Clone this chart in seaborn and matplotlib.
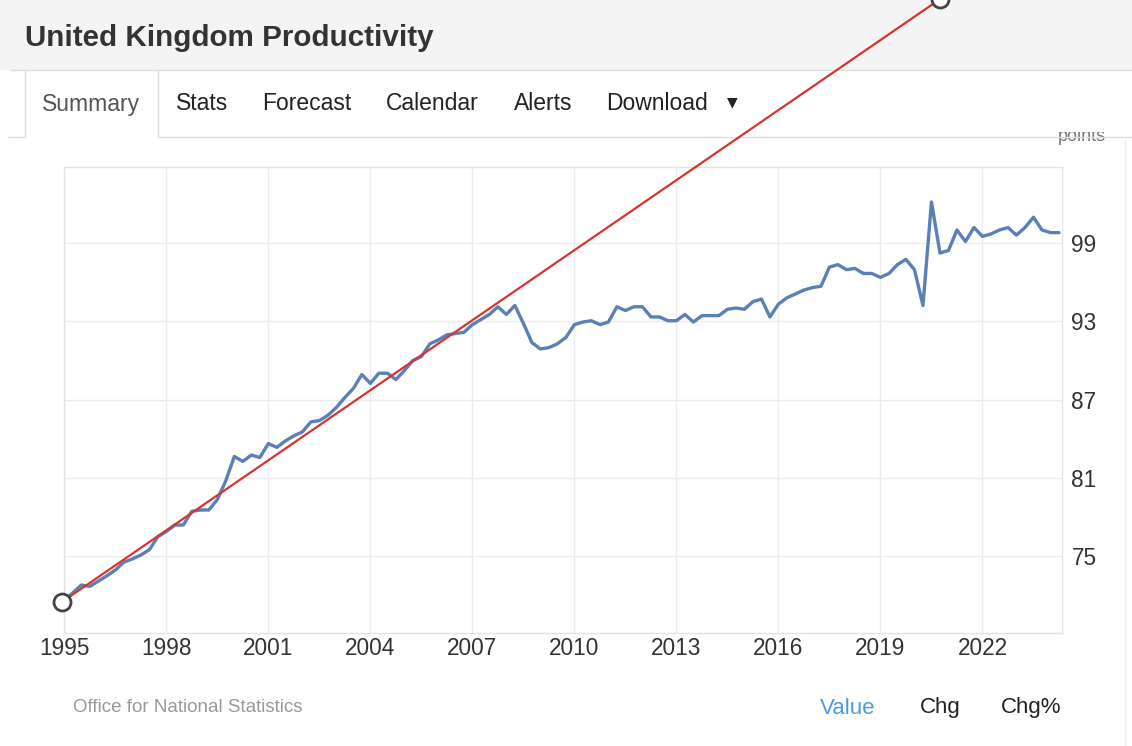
import matplotlib
matplotlib.use("Agg")
import matplotlib.pyplot as plt
import seaborn as sns
import pandas as pd
from matplotlib.lines import Line2D
from matplotlib.patches import Rectangle

# quarterly productivity index
years = [
    1995.00, 1995.25, 1995.50, 1995.75, 1996.00, 1996.25, 1996.50, 1996.75,
    1997.00, 1997.25, 1997.50, 1997.75, 1998.00, 1998.25, 1998.50, 1998.75,
    1999.00, 1999.25, 1999.50, 1999.75, 2000.00, 2000.25, 2000.50, 2000.75,
    2001.00, 2001.25, 2001.50, 2001.75, 2002.00, 2002.25, 2002.50, 2002.75,
    2003.00, 2003.25, 2003.50, 2003.75, 2004.00, 2004.25, 2004.50, 2004.75,
    2005.00, 2005.25, 2005.50, 2005.75, 2006.00, 2006.25, 2006.50, 2006.75,
    2007.00, 2007.25, 2007.50, 2007.75, 2008.00, 2008.25, 2008.50, 2008.75,
    2009.00, 2009.25, 2009.50, 2009.75, 2010.00, 2010.25, 2010.50, 2010.75,
    2011.00, 2011.25, 2011.50, 2011.75, 2012.00, 2012.25, 2012.50, 2012.75,
    2013.00, 2013.25, 2013.50, 2013.75, 2014.00, 2014.25, 2014.50, 2014.75,
    2015.00, 2015.25, 2015.50, 2015.75, 2016.00, 2016.25, 2016.50, 2016.75,
    2017.00, 2017.25, 2017.50, 2017.75, 2018.00, 2018.25, 2018.50, 2018.75,
    2019.00, 2019.25, 2019.50, 2019.75, 2020.00, 2020.25, 2020.50, 2020.75,
    2021.00, 2021.25, 2021.50, 2021.75, 2022.00, 2022.25, 2022.50, 2022.75,
    2023.00, 2023.25, 2023.50, 2023.75, 2024.00, 2024.25,
]
values = [
    71.6, 72.2, 72.8, 72.7, 73.1, 73.5, 73.95, 74.55,
    74.8, 75.1, 75.5, 76.5, 76.9, 77.4, 77.4, 78.45,
    78.55, 78.55, 79.35, 80.8, 82.65, 82.27, 82.76, 82.57,
    83.64, 83.35, 83.84, 84.23, 84.53, 85.3, 85.4, 85.8,
    86.4, 87.17, 87.86, 88.93, 88.25, 89.03, 89.03, 88.54,
    89.23, 90.0, 90.3, 91.28, 91.58, 91.97, 92.07, 92.16,
    92.75, 93.14, 93.53, 94.12, 93.53, 94.22, 92.85, 91.38,
    90.89, 90.99, 91.28, 91.77, 92.75, 92.95, 93.05, 92.75,
    92.95, 94.12, 93.83, 94.12, 94.12, 93.34, 93.34, 93.05,
    93.05, 93.53, 92.95, 93.44, 93.44, 93.44, 93.93, 94.02,
    93.93, 94.51, 94.71, 93.34, 94.32, 94.81, 95.1, 95.4,
    95.59, 95.69, 97.16, 97.35, 96.96, 97.06, 96.67, 96.67,
    96.37, 96.67, 97.35, 97.75, 96.96, 94.22, 102.15, 98.24,
    98.43, 100.0, 99.12, 100.19, 99.51, 99.7, 100.0, 100.19,
    99.61, 100.19, 100.98, 100.0, 99.8, 99.8,
]

# hand-drawn red trend line (start and end points)
trend_years = [1994.93, 2020.76]
trend_values = [71.5, 117.7]

x_ticks = [1995, 1998, 2001, 2004, 2007, 2010, 2013, 2016, 2019, 2022]
y_ticks = [75, 81, 87, 93, 99]

title = "United Kingdom Productivity"
tabs = ["Summary", "Stats", "Forecast", "Calendar", "Alerts", "Download"]
source = "Office for National Statistics"

sns.set_style("white")
plt.rcParams["font.family"] = ["Liberation Sans", "DejaVu Sans"]

W, H = 1132, 746
fig = plt.figure(figsize=(W / 100, H / 100), dpi=100)


def fx(px):
    return px / W


def fy(py):
    return 1 - py / H


def hline(y, x0, x1, color="#dddddd", lw=1.0, z=2):
    fig.add_artist(Line2D([fx(x0), fx(x1)], [fy(y), fy(y)], color=color, lw=lw, zorder=z))


def vline(x, y0, y1, color="#dddddd", lw=1.0, z=2):
    fig.add_artist(Line2D([fx(x), fx(x)], [fy(y0), fy(y1)], color=color, lw=lw, zorder=z))


# "points" label, mostly hidden under the tab row
fig.text(fx(1106), fy(141), "points", fontsize=13, color="#777777", ha="right",
         va="baseline", zorder=1)
fig.patches.append(Rectangle((fx(700), fy(132)), fx(432), 62 / H, transform=fig.transFigure,
                             facecolor="white", edgecolor="none", zorder=1.5))

# page header
fig.patches.append(Rectangle((0, fy(70)), 1, 70 / H, transform=fig.transFigure,
                             facecolor="#f4f4f4", edgecolor="none", zorder=1.6))
fig.text(fx(25), fy(38), title, fontsize=21.3, fontweight="bold", color="#333333",
         va="center", ha="left", zorder=3)
hline(70, 10, W)

# tab row
vline(25, 70, 137)
vline(158, 70, 137)
hline(137, 158, W)
hline(137, 8, 25)
fig.text(fx(91), fy(104), tabs[0], fontsize=16.5, color="#555555", ha="center",
         va="center", zorder=3)
tab_x = [176, 262, 386, 514, 606]
for name, px in zip(tabs[1:], tab_x):
    fig.text(fx(px), fy(104), name, fontsize=16.5, color="#222222", ha="left",
             va="center", zorder=3)
fig.text(fx(732), fy(102), "\u25bc", fontsize=10, color="#222222", ha="center",
         va="center", family="DejaVu Sans", zorder=3)
vline(1125, 137, H, color="#eeeeee")

# chart
ax = fig.add_axes([fx(64.3), fy(632.7), fx(1061.7 - 64.3), (632.7 - 166.7) / H])
ax.set_zorder(5)
df = pd.DataFrame({"year": years, "value": values})
sns.lineplot(data=df, x="year", y="value", ax=ax, color="#5a80b6", lw=2.4)

trend = pd.DataFrame({"year": trend_years, "value": trend_values})
sns.lineplot(data=trend, x="year", y="value", ax=ax, color="#d8342f", lw=1.6,
             clip_on=False, zorder=6)
sns.scatterplot(data=trend, x="year", y="value", ax=ax, s=150, facecolor="white",
                edgecolor="#444444", linewidth=2.0, clip_on=False, zorder=7)

ax.set_xlim(1995, 2024.33)
ax.set_ylim(69.15, 104.85)
ax.set_xticks(x_ticks)
ax.set_xticklabels([str(t) for t in x_ticks])
ax.set_yticks(y_ticks)
ax.set_yticklabels([str(t) for t in y_ticks])
ax.yaxis.tick_right()
ax.tick_params(axis="x", length=0, pad=3, labelsize=16.3, labelcolor="#333333")
ax.tick_params(axis="y", length=0, pad=7, labelsize=16.3, labelcolor="#333333")
ax.grid(True, color="#ececec", lw=1.0)
ax.set_axisbelow(True)
for side in ["left", "right", "top", "bottom"]:
    ax.spines[side].set_color("#e3e3e3")
    ax.spines[side].set_linewidth(1.0)
ax.set_xlabel("")
ax.set_ylabel("")
legend = ax.get_legend()
if legend is not None:
    legend.remove()

# footer
fig.text(fx(73), fy(708), source, fontsize=13.5, color="#999999", ha="left", va="center")
fig.text(fx(848), fy(708), "Value", fontsize=16, color="#4f9bd9", ha="center", va="center")
fig.text(fx(940), fy(708), "Chg", fontsize=16, color="#222222", ha="center", va="center")
fig.text(fx(1031), fy(708), "Chg%", fontsize=16, color="#222222", ha="center", va="center")

fig.savefig("out.png", dpi=100, facecolor="white")
